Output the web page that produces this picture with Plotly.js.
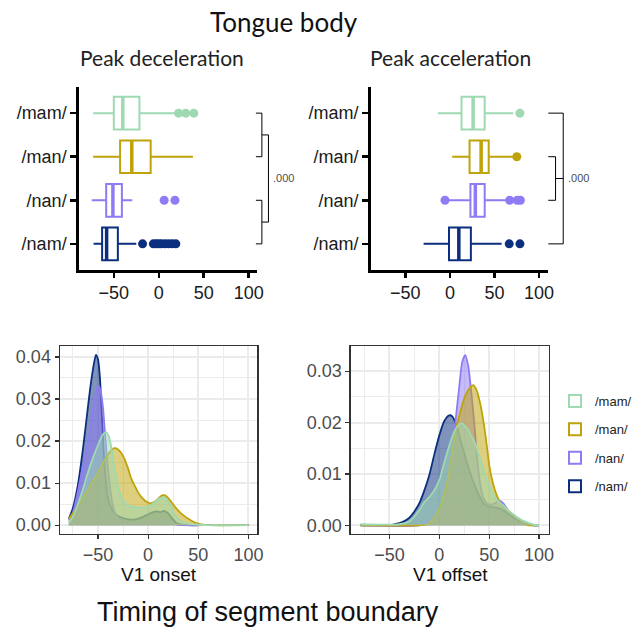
<!DOCTYPE html>
<html>
<head>
<meta charset="utf-8">
<script src="https://cdn.plot.ly/plotly-3.0.1.min.js"></script>
<style>
  html, body { margin: 0; padding: 0; background: #ffffff; }
  #chart { width: 637px; height: 627px; }
</style>
</head>
<body>
<div id="chart"></div>
<script>
// Syllable groups, listed top to bottom
const groups = ['/mam/', '/man/', '/nan/', '/nam/'];
const colors = ['#9ED9B2', '#BFA30A', '#8F7CF4', '#0B2F7E'];

// Peak deceleration (tongue body) box statistics
const decQ1  = [-50, -43, -58.5, -63];
const decMed = [-40, -30, -51, -58];
const decQ3  = [-21.5, -9, -41, -45.5];
const decLo  = [-73, -73, -74.5, -72.5];
const decHi  = [17, 38, -29.5, -25];
const decOut = [[22, 30, 39], [], [6, 18], [-18, -6, -3, 0, 3, 7, 11, 15, 19]];

// Peak acceleration (tongue body) box statistics
const accQ1  = [13, 22, 23, -1];
const accMed = [26, 35, 28.5, 10];
const accQ3  = [39, 43.5, 39, 23.5];
const accLo  = [-13.5, 2.5, -1, -29.5];
const accHi  = [71, 71, 65, 58];
const accOut = [[78.5], [75], [-5.5, 67, 75.5, 79], [66.5, 78.5]];

// Density of V1 onset timing
const onX_nam = [-79,-75,-70,-65,-62,-58,-55,-52,-50,-48,-46.5,-45,-43,-40,-37,-34,-30,-25,-20,-15,-10,-5,0,5,8,12,16,20,24,28,32,40,60,100];
const onY_nam = [0.0015,0.004,0.0095,0.018,0.024,0.032,0.037,0.0405,0.0395,0.035,0.028,0.021,0.013,0.0065,0.0042,0.003,0.0022,0.0017,0.0014,0.0013,0.0015,0.002,0.0026,0.0031,0.0033,0.0031,0.0034,0.0028,0.0016,0.0006,0.0002,0,0,0];
const onX_nan = [-79,-75,-70,-65,-60,-57,-54,-51,-49,-47,-45,-43,-41,-38,-35,-32,-28,-23,-15,-5,0,5,10,15,20,25,30,35,60,100];
const onY_nan = [0.0012,0.003,0.008,0.014,0.0195,0.024,0.029,0.0325,0.033,0.0315,0.028,0.022,0.016,0.009,0.0045,0.0025,0.0012,0.0006,0.0003,0.0004,0.0008,0.0011,0.0012,0.0013,0.001,0.0004,0.0001,0,0,0];
const onX_man = [-79,-75,-70,-65,-60,-55,-50,-45,-40,-36,-33,-30,-27,-24,-20,-17,-13,-10,-6,-2,2,6,10,14,17,20,24,28,32,36,40,45,50,55,60,100];
const onY_man = [0.0015,0.0028,0.0045,0.0065,0.0085,0.0105,0.0125,0.0148,0.0168,0.018,0.0183,0.018,0.0172,0.016,0.0135,0.0112,0.0092,0.0078,0.0065,0.0056,0.0052,0.0055,0.0063,0.0071,0.0071,0.0065,0.0052,0.004,0.003,0.0022,0.0015,0.0008,0.0004,0.0001,0,0];
const onX_mam = [-79,-75,-70,-65,-60,-55,-50,-46,-42,-39,-36,-33,-30,-27,-23,-18,-12,-6,0,5,10,15,18,22,26,30,35,40,50,60,100];
const onY_mam = [0.0006,0.002,0.005,0.0085,0.0125,0.016,0.019,0.0212,0.0221,0.021,0.0175,0.0128,0.009,0.0068,0.0053,0.0045,0.0042,0.0041,0.0043,0.0052,0.0062,0.0066,0.0063,0.0048,0.0028,0.0015,0.0007,0.0003,0.0001,0,0];

// Density of V1 offset timing
const offX_nam = [-79,-50,-45,-40,-35,-30,-25,-20,-15,-10,-5,0,5,10,13,17,20,25,30,35,40,45,50,55,60,65,70,75,80,85,90,100];
const offY_nam = [0,0,0.0002,0.0004,0.0008,0.0015,0.0027,0.0043,0.0068,0.0098,0.0138,0.0175,0.0203,0.0214,0.0212,0.0195,0.0175,0.014,0.0108,0.008,0.0058,0.0042,0.0036,0.0035,0.0033,0.0028,0.0021,0.0014,0.0008,0.0003,0.0001,0];
const offX_nan = [-79,-20,-10,-5,0,5,10,15,20,23,26,29,32,35,38,41,45,50,55,60,63,67,70,75,80,85,90,95,100];
const offY_nan = [0,0,0.0008,0.0015,0.002,0.004,0.009,0.018,0.027,0.0318,0.0331,0.031,0.026,0.02,0.013,0.008,0.005,0.004,0.0042,0.0048,0.0045,0.0035,0.0025,0.0018,0.0012,0.0006,0.0002,0,0];
const offX_man = [-79,-20,-12,-6,-1,4,9,14,18,22,26,30,34,37,41,44,47,50,53,56,61,65,70,75,80,86,90,100];
const offY_man = [0,0,0.0002,0.0012,0.0028,0.0055,0.0095,0.0155,0.0198,0.0228,0.0252,0.0266,0.0273,0.0265,0.0237,0.0205,0.0165,0.0118,0.0088,0.0067,0.0044,0.0035,0.0027,0.0019,0.0011,0.0002,0,0];
const offX_mam = [-79,-40,-30,-25,-20,-15,-10,-5,0,5,10,15,19,23,27,31,36,40,43,47,50,55,60,65,70,75,80,85,90,95,100];
const offY_mam = [0.0002,0.0002,0.0008,0.0017,0.003,0.0045,0.0055,0.0068,0.0088,0.0122,0.0155,0.0182,0.0195,0.0198,0.019,0.0178,0.0159,0.0135,0.0117,0.0092,0.0077,0.0057,0.0045,0.0037,0.0027,0.002,0.0013,0.0008,0.0004,0.0001,0];

const W = 637, H = 627;
const px = v => v / W;          // horizontal pixel -> paper
const py = v => 1 - v / H;      // vertical pixel (from top) -> paper
const groupPos = groups.map((g, i) => groups.length - i);
const boxWidth = 0.75;

function rgba(hex, a) {
  const n = parseInt(hex.slice(1), 16);
  return `rgba(${(n >> 16) & 255},${(n >> 8) & 255},${n & 255},${a})`;
}

function boxTraces(q1, med, q3, lo, hi, out, xa, ya, withLegend) {
  const traces = [];
  groups.forEach((g, i) => {
    traces.push({
      type: 'box', orientation: 'h', name: g, legendgroup: g, showlegend: withLegend,
      y: [groupPos[i]], q1: [q1[i]], median: [med[i]], q3: [q3[i]],
      lowerfence: [lo[i]], upperfence: [hi[i]],
      width: boxWidth, whiskerwidth: 0, boxpoints: false,
      fillcolor: '#ffffff', line: { color: colors[i], width: 2 },
      xaxis: xa, yaxis: ya, hoverinfo: 'skip'
    });
    // thicker median bar
    traces.push({
      type: 'scatter', mode: 'lines', showlegend: false, legendgroup: g, hoverinfo: 'skip',
      x: [med[i], med[i]],
      y: [groupPos[i] - boxWidth / 2, groupPos[i] + boxWidth / 2],
      line: { color: colors[i], width: 3.5 }, xaxis: xa, yaxis: ya
    });
    if (out[i].length) {
      traces.push({
        type: 'scatter', mode: 'markers', showlegend: false, legendgroup: g, hoverinfo: 'skip',
        x: out[i], y: out[i].map(() => groupPos[i]),
        marker: { color: colors[i], size: 9 }, xaxis: xa, yaxis: ya
      });
    }
  });
  return traces;
}

function densityTraces(xs, ys, xa, ya) {
  // drawn from the bottom of the legend upwards so /mam/ ends on top
  const order = [3, 2, 1, 0];
  return order.map(i => ({
    type: 'scatter', mode: 'lines', showlegend: false, legendgroup: groups[i], hoverinfo: 'skip',
    x: xs[i], y: ys[i], fill: 'tozeroy', fillcolor: rgba(colors[i], 0.52),
    line: { color: colors[i], width: 1.8, shape: 'spline', smoothing: 0.7 },
    xaxis: xa, yaxis: ya
  }));
}

const data = [
  ...boxTraces(decQ1, decMed, decQ3, decLo, decHi, decOut, 'x', 'y', true),
  ...boxTraces(accQ1, accMed, accQ3, accLo, accHi, accOut, 'x2', 'y2', false),
  ...densityTraces([onX_mam, onX_man, onX_nan, onX_nam], [onY_mam, onY_man, onY_nan, onY_nam], 'x3', 'y3'),
  ...densityTraces([offX_mam, offX_man, offX_nan, offX_nam], [offY_mam, offY_man, offY_nan, offY_nam], 'x4', 'y4')
];

const tickFont = { family: 'Liberation Sans, Arial, sans-serif', size: 18, color: '#1a1a1a' };
const greyTickFont = { family: 'Liberation Sans, Arial, sans-serif', size: 18, color: '#4D4D4D' };

function topX(domain, anchor) {
  return {
    domain: domain, anchor: anchor, range: [-89, 109.5], automargin: false,
    tickvals: [-50, 0, 50, 100], showgrid: false, zeroline: false,
    showline: true, linecolor: '#000', linewidth: 2.5,
    ticks: 'outside', ticklen: 5, tickwidth: 2.5, tickcolor: '#000', tickfont: tickFont
  };
}
function topY(anchor) {
  return {
    domain: [py(270), py(87)], anchor: anchor, range: [0.4, 4.6], automargin: false,
    tickvals: groupPos, ticktext: groups, showgrid: false, zeroline: false,
    showline: true, linecolor: '#000', linewidth: 2.5,
    ticks: 'outside', ticklen: 6, tickwidth: 2.5, tickcolor: '#000', tickfont: tickFont
  };
}
function botX(domain, anchor, range) {
  return {
    domain: domain, anchor: anchor, range: range, automargin: false,
    tick0: 0, dtick: 50, zeroline: false,
    showgrid: true, gridcolor: '#EBEBEB', gridwidth: 2,
    minor: { dtick: 25, tick0: 0, showgrid: true, gridcolor: '#EBEBEB', gridwidth: 1 },
    showline: true, mirror: true, linecolor: '#333333', linewidth: 1.3,
    ticks: 'outside', ticklen: 4, tickwidth: 1.2, tickcolor: '#333333', tickfont: greyTickFont
  };
}
function botY(anchor, range) {
  return {
    domain: [py(534), py(346)], anchor: anchor, range: range, automargin: false,
    tick0: 0, dtick: 0.01, tickformat: '.2f', zeroline: false,
    showgrid: true, gridcolor: '#EBEBEB', gridwidth: 2,
    minor: { dtick: 0.005, tick0: 0, showgrid: true, gridcolor: '#EBEBEB', gridwidth: 1 },
    showline: true, mirror: true, linecolor: '#333333', linewidth: 1.3,
    ticks: 'outside', ticklen: 4, tickwidth: 1.2, tickcolor: '#333333', tickfont: greyTickFont
  };
}

// Significance brackets beside the box panels (x in paper units, y in group positions)
const pMam = groupPos[0], pMan = groupPos[1], pNan = groupPos[2], pNam = groupPos[3];
const bracket = { type: 'path', xref: 'paper', line: { color: '#000', width: 1 } };
const shapes = [
  // deceleration: (/mam/,/man/) vs (/nan/,/nam/)
  { ...bracket, yref: 'y', path: `M${px(256.7)},${pMam} H${px(262.7)} V${pMan} H${px(256.7)}` },
  { ...bracket, yref: 'y', path: `M${px(256.7)},${pNan} H${px(262.7)} V${pNam} H${px(256.7)}` },
  { ...bracket, yref: 'y', path: `M${px(262.7)},${(pMam + pMan) / 2} H${px(269.3)} V${(pNan + pNam) / 2} H${px(262.7)}` },
  // acceleration: (/man/,/nan/) vs (/mam/,/nam/)
  { ...bracket, yref: 'y2', path: `M${px(550)},${pMan} H${px(557.3)} V${pNan} H${px(550)}` },
  { ...bracket, yref: 'y2', path: `M${px(550)},${pMam} H${px(565)} V${pNam} H${px(550)}` },
  { ...bracket, yref: 'y2', path: `M${px(557.3)},${(pMan + pNan) / 2} H${px(565)}` }
];

const lato = 'Lato, sans-serif';
const sans = 'Liberation Sans, Arial, sans-serif';
const annotations = [
  { text: 'Tongue body', x: px(285), y: py(22), xref: 'paper', yref: 'paper', xanchor: 'center', yanchor: 'middle', showarrow: false, font: { family: lato, size: 26, color: '#111' } },
  { text: 'Peak deceleration', x: px(78), y: py(57), xref: 'paper', yref: 'paper', xanchor: 'left', yanchor: 'middle', showarrow: false, font: { family: lato, size: 21, color: '#222' } },
  { text: 'Peak acceleration', x: px(369), y: py(57), xref: 'paper', yref: 'paper', xanchor: 'left', yanchor: 'middle', showarrow: false, font: { family: lato, size: 21, color: '#222' } },
  { text: '.000', x: px(272), y: (pMan + pNan) / 2, xref: 'paper', yref: 'y', xanchor: 'left', yanchor: 'middle', showarrow: false, font: { family: sans, size: 11, color: '#4D4D4D' } },
  { text: '.000', x: px(568), y: (pMan + pNan) / 2, xref: 'paper', yref: 'y2', xanchor: 'left', yanchor: 'middle', showarrow: false, font: { family: sans, size: 11, color: '#4D4D4D' } },
  { text: 'V1 onset', x: px(159), y: py(574), xref: 'paper', yref: 'paper', xanchor: 'center', yanchor: 'middle', showarrow: false, font: { family: sans, size: 19, color: '#111' } },
  { text: 'V1 offset', x: px(451.7), y: py(574), xref: 'paper', yref: 'paper', xanchor: 'center', yanchor: 'middle', showarrow: false, font: { family: sans, size: 19, color: '#111' } },
  { text: 'Timing of segment boundary', x: px(269), y: py(612), xref: 'paper', yref: 'paper', xanchor: 'center', yanchor: 'middle', showarrow: false, font: { family: sans, size: 27, color: '#111' } }
];

const layout = {
  width: W, height: H,
  margin: { l: 0, r: 0, t: 0, b: 0, pad: 0 },
  paper_bgcolor: '#ffffff', plot_bgcolor: '#ffffff',
  font: { family: sans, color: '#222' },
  showlegend: true,
  boxmode: 'overlay',
  legend: {
    x: px(557), y: py(386), xanchor: 'left', yanchor: 'top',
    bgcolor: 'rgba(0,0,0,0)', font: { family: sans, size: 13, color: '#222' },
    tracegroupgap: 8.5, traceorder: 'grouped'
  },
  xaxis: topX([px(79), px(258)], 'y'),
  yaxis: topY('x'),
  xaxis2: topX([px(371.7), px(549.3)], 'y2'),
  yaxis2: topY('x2'),
  xaxis3: botX([px(60), px(258.3)], 'y3', [-88, 109]),
  yaxis3: botY('x3', [-0.0021, 0.0426]),
  xaxis4: botX([px(351.7), px(550.7)], 'y4', [-89, 110]),
  yaxis4: botY('x4', [-0.0017, 0.0349]),
  shapes: shapes,
  annotations: annotations
};

Plotly.newPlot('chart', data, layout, { staticPlot: true, displayModeBar: false });
</script>
</body>
</html>
